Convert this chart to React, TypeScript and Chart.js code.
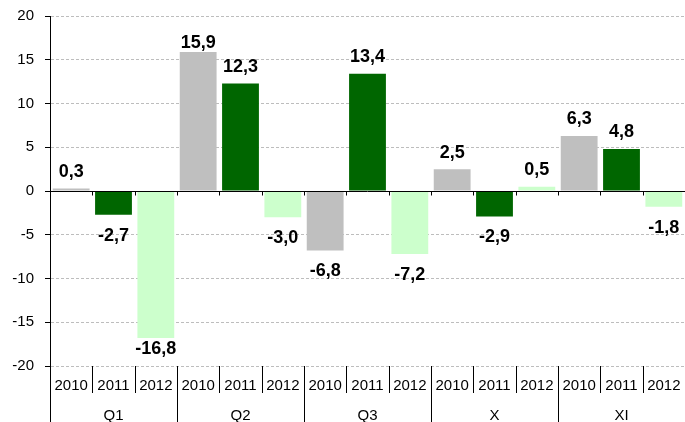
import React, { useEffect, useRef } from 'react';
import { Chart, registerables } from 'chart.js';

Chart.register(...registerables);

const groups = ['Q1', 'Q2', 'Q3', 'X', 'XI'];
const years = ['2010', '2011', '2012'];
const values2010 = [0.3, 15.9, -6.8, 2.5, 6.3];
const values2011 = [-2.7, 12.3, 13.4, -2.9, 4.8];
const values2012 = [-16.8, -3.0, -7.2, 0.5, -1.8];
const yearColors = ['#BFBFBF', '#006600', '#CCFFCC'];
const yMin = -20;
const yMax = 20;
const yStep = 5;

const FONT = "'Liberation Sans', Arial, Helvetica, sans-serif";

const seriesByYear = [values2010, values2011, values2012];
const labels: string[] = [];
const values: number[] = [];
const colors: string[] = [];
groups.forEach((_, g) => {
  years.forEach((yr, k) => {
    labels.push(yr);
    values.push(seriesByYear[k][g]);
    colors.push(yearColors[k]);
  });
});

const fmt = (v: number) => v.toFixed(1).replace('.', ',');

const excelAxisPlugin = {
  id: 'excelAxis',
  afterDatasetsDraw(chart: any) {
    const { ctx, chartArea, scales } = chart;
    const x = scales.x;
    const y = scales.y;
    const n = chart.data.labels.length;
    const half = (x.getPixelForValue(1) - x.getPixelForValue(0)) / 2;
    const y0 = Math.round(y.getPixelForValue(0)) + 0.5;
    const H = chart.height;
    const boundary = (i: number) =>
      i < n ? x.getPixelForValue(i) - half : x.getPixelForValue(n - 1) + half;

    ctx.save();
    ctx.strokeStyle = '#000';
    ctx.lineWidth = 1;
    ctx.setLineDash([]);
    ctx.beginPath();
    ctx.moveTo(chartArea.left, y0);
    ctx.lineTo(chartArea.right, y0);
    for (let i = 1; i < n; i++) {
      const bx = Math.round(boundary(i)) + 0.5;
      ctx.moveTo(bx, y0);
      ctx.lineTo(bx, y0 + 4);
    }
    // category separators below the plot
    for (let i = 0; i <= n; i++) {
      const bx = Math.round(boundary(i)) + 0.5;
      const end = i % 3 === 0 ? H : chartArea.bottom + 27;
      ctx.moveTo(bx, chartArea.bottom);
      ctx.lineTo(bx, end);
    }
    ctx.stroke();

    // year labels and group labels
    ctx.fillStyle = '#000';
    ctx.textAlign = 'center';
    ctx.textBaseline = 'middle';
    ctx.font = `15px ${FONT}`;
    for (let i = 0; i < n; i++) {
      ctx.fillText(chart.data.labels[i], x.getPixelForValue(i), chartArea.bottom + 20);
    }
    groups.forEach((gName, g) => {
      const cx = (x.getPixelForValue(g * 3) + x.getPixelForValue(g * 3 + 2)) / 2;
      ctx.fillText(gName, cx, chartArea.bottom + 50);
    });

    // value labels
    ctx.font = `bold 18px ${FONT}`;
    const meta = chart.getDatasetMeta(0);
    meta.data.forEach((bar: any, i: number) => {
      const v = chart.data.datasets[0].data[i];
      let cy = v >= 0 ? bar.y - 16.5 : bar.y + 21;
      cy = Math.max(cy, chartArea.top + 27);
      cy = Math.min(cy, chartArea.bottom - 17);
      ctx.fillText(fmt(v), bar.x, cy);
    });
    ctx.restore();
  },
};

export default function App() {
  const ref = useRef<HTMLCanvasElement | null>(null);

  useEffect(() => {
    if (!ref.current) return;
    const chart = new Chart(ref.current, {
      type: 'bar',
      data: {
        labels,
        datasets: [
          {
            data: values,
            backgroundColor: colors,
            borderWidth: 0,
            categoryPercentage: 1,
            barPercentage: 0.87,
          },
        ],
      },
      options: {
        responsive: false,
        animation: false,
        maintainAspectRatio: false,
        layout: { padding: { top: 16, right: 0, bottom: 56, left: 0 } },
        plugins: {
          legend: { display: false },
          tooltip: { enabled: false },
        },
        scales: {
          x: {
            display: false,
          },
          y: {
            min: yMin,
            max: yMax,
            afterFit: (scale: any) => {
              scale.width = 50;
              scale.paddingTop = 0;
              scale.paddingBottom = 0;
            },
            ticks: {
              stepSize: yStep,
              color: '#000',
              padding: 11,
              font: { family: FONT, size: 15 },
            },
            grid: {
              color: (c: any) => (c.tick && c.tick.value === 0 ? 'rgba(0,0,0,0)' : '#BDBDBD'),
              lineWidth: 1,
              tickLength: 5,
              tickColor: '#000',
              tickBorderDash: [],
            },
            border: {
              display: true,
              color: '#000',
              width: 1,
              dash: [3, 2],
            },
          },
        },
      },
      plugins: [excelAxisPlugin],
    });
    return () => chart.destroy();
  }, []);

  return (
    <div style={{ position: 'fixed', left: 0, top: 0, width: 685, height: 422, background: '#fff' }}>
      <canvas ref={ref} width={685} height={422} style={{ display: 'block' }} />
    </div>
  );
}
